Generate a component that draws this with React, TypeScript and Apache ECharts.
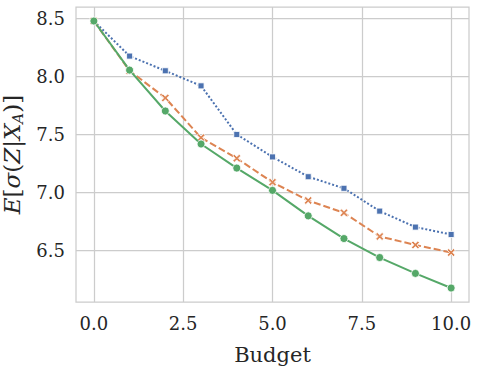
import React, { useEffect, useRef } from "react";
import * as echarts from "echarts";

const budget = [0, 1, 2, 3, 4, 5, 6, 7, 8, 9, 10];
const blueValues = [8.48, 8.177, 8.05, 7.92, 7.5, 7.306, 7.135, 7.035, 6.838, 6.7, 6.636];
const orangeValues = [8.48, 8.05, 7.816, 7.472, 7.294, 7.087, 6.93, 6.823, 6.619, 6.546, 6.48];
const greenValues = [8.48, 8.056, 7.703, 7.418, 7.21, 7.017, 6.797, 6.601, 6.437, 6.3, 6.174];
const xTicks = [0, 2.5, 5, 7.5, 10];
const yTicks = [6.5, 7.0, 7.5, 8.0, 8.5];

const FONT = "DejaVu Serif";
const TXT = "#262626";
const XMARK = "path://M0,2 L2,0 L5,3 L8,0 L10,2 L7,5 L10,8 L8,10 L5,7 L2,10 L0,8 L3,5 Z";

export default function App() {
  const ref = useRef<HTMLDivElement>(null);
  useEffect(() => {
    document.body.style.margin = "0";
    const chart = echarts.init(ref.current!, null, { renderer: "svg" });
    const pts = (vals: number[]) => budget.map((b, i) => [b, vals[i]]);
    chart.setOption({
      animation: false,
      backgroundColor: "#ffffff",
      grid: {
        left: 76,
        right: 9,
        top: 7,
        bottom: 66,
        containLabel: false,
        outerBoundsMode: "none",
        show: true,
        borderColor: "#cccccc",
        borderWidth: 1.25,
        backgroundColor: "transparent",
      },
      xAxis: {
        type: "value",
        min: -0.5,
        max: 10.5,
        name: "Budget",
        nameLocation: "middle",
        nameGap: 42,
        nameTextStyle: { fontFamily: FONT, fontSize: 21, color: TXT },
        axisLine: { show: false },
        axisTick: { show: false, customValues: xTicks },
        axisLabel: {
          customValues: xTicks,
          formatter: (v: number) => v.toFixed(1),
          fontFamily: FONT,
          fontSize: 18,
          color: TXT,
          margin: 12,
        },
        splitLine: { show: true, lineStyle: { color: "#cccccc", width: 1.25 } },
      },
      yAxis: {
        type: "value",
        min: 6.053,
        max: 8.601,
        name: "{i|E}[{i|σ}({i|Z}|{i|X}{s|A})]",
        nameLocation: "middle",
        nameRotate: 90,
        nameGap: 39,
        nameTextStyle: {
          fontFamily: FONT,
          fontSize: 23,
          color: TXT,
          lineHeight: 26,
          rich: {
            i: { fontFamily: FONT, fontStyle: "italic", fontSize: 23, color: TXT, lineHeight: 26 },
            s: { fontFamily: FONT, fontStyle: "italic", fontSize: 15, color: TXT, lineHeight: 26, verticalAlign: "bottom" },
          },
        },
        axisLine: { show: false },
        axisTick: { show: false, customValues: yTicks },
        axisLabel: {
          customValues: yTicks,
          formatter: (v: number) => v.toFixed(1),
          fontFamily: FONT,
          fontSize: 18,
          color: TXT,
          margin: 11,
        },
        splitLine: { show: true, lineStyle: { color: "#cccccc", width: 1.25 } },
      },
      series: [
        {
          type: "line",
          data: pts(blueValues),
          color: "#4C72B0",
          lineStyle: { width: 2, type: [2, 2] },
          symbol: "rect",
          symbolSize: 6,
          itemStyle: { color: "#4C72B0", borderColor: "#ffffff", borderWidth: 0.8 },
          z: 2,
        },
        {
          type: "line",
          data: pts(orangeValues),
          color: "#DD8452",
          lineStyle: { width: 2, type: [7, 3] },
          symbol: XMARK,
          symbolSize: 8,
          itemStyle: { color: "#DD8452", borderColor: "#ffffff", borderWidth: 0.8 },
          z: 3,
        },
        {
          type: "line",
          data: pts(greenValues),
          color: "#55A868",
          lineStyle: { width: 2 },
          symbol: "circle",
          symbolSize: 8,
          itemStyle: { color: "#55A868", borderColor: "#ffffff", borderWidth: 0.8 },
          z: 4,
        },
      ],
    });
    return () => chart.dispose();
  }, []);
  return (
    <div
      ref={ref}
      style={{ position: "fixed", left: 0, top: 0, width: 478, height: 368 }}
    />
  );
}
